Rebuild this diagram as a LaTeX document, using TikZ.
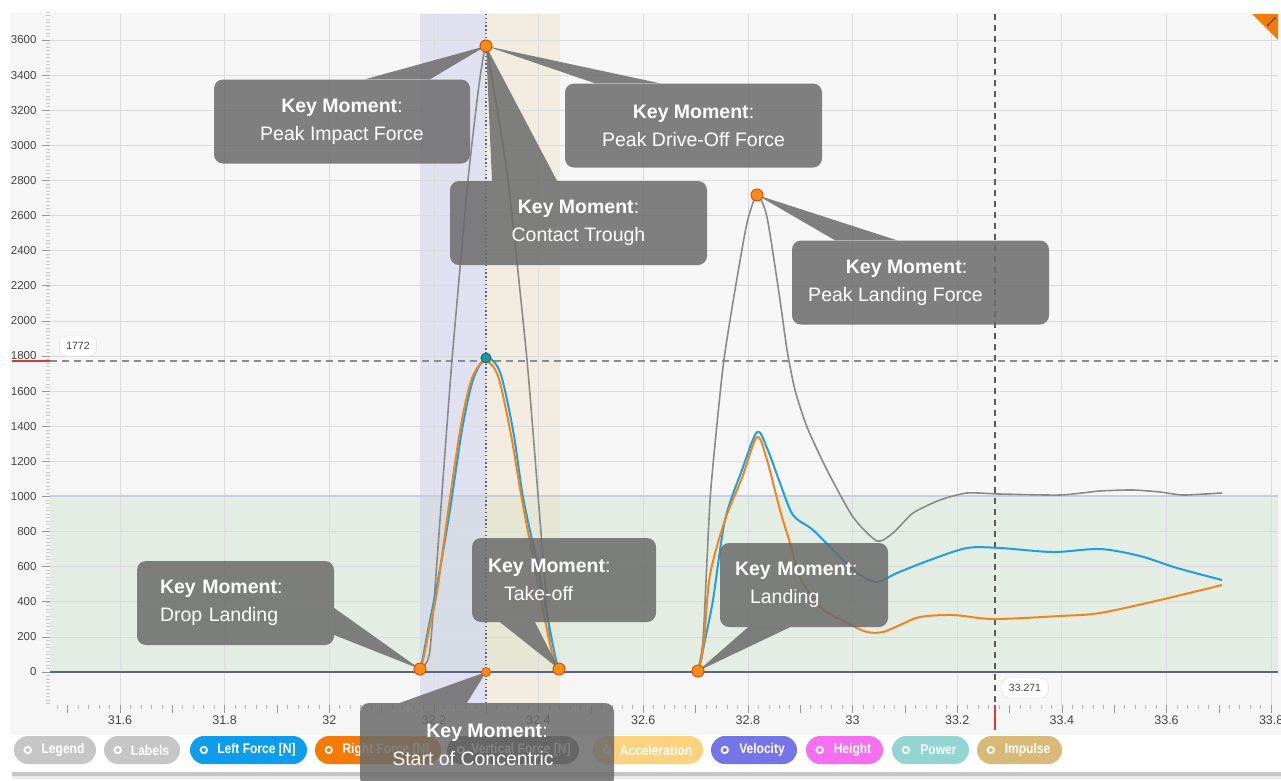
\documentclass[tikz,border=0pt]{standalone}
\usepackage{fontspec}
\setmainfont{Liberation Sans}
\newfontfamily\pillfont[FakeStretch=0.86]{Liberation Sans}
\usetikzlibrary{arrows.meta}
\definecolor{panelbg}{HTML}{F6F6F7}
\definecolor{gridgrey}{HTML}{DCDCDE}
\definecolor{zonegreen}{HTML}{E3EDE3}
\definecolor{zoneedge}{HTML}{C9CEDF}
\definecolor{bandlav}{HTML}{C6C9E8}
\definecolor{bandbeige}{HTML}{EADDBB}
\definecolor{axisslate}{HTML}{5E6286}
\definecolor{callgrey}{HTML}{6B6B6B}
\definecolor{leftblue}{HTML}{1E9FE0}
\definecolor{rightorange}{HTML}{F0851C}
\definecolor{vertgrey}{HTML}{8A8A8A}
\definecolor{mkorange}{HTML}{FB8C1A}
\definecolor{mkedge}{HTML}{D2500A}
\definecolor{mkteal}{HTML}{169C9C}
\definecolor{cursorred}{HTML}{D83A3A}
\definecolor{ticklab}{HTML}{444444}
\definecolor{pillgrey}{HTML}{C6C6C6}
\definecolor{pillleft}{HTML}{0E9DEB}
\definecolor{pillright}{HTML}{F57A06}
\definecolor{pillvert}{HTML}{4C4C4C}
\definecolor{pillacc}{HTML}{FCD27D}
\definecolor{pillvel}{HTML}{7575E8}
\definecolor{pillhgt}{HTML}{F66FF0}
\definecolor{pillpow}{HTML}{93D5D3}
\definecolor{pillimp}{HTML}{D8B977}

\begin{document}
\begin{tikzpicture}[x=1pt,y=-1pt,
  callout/.style={fill=callgrey, fill opacity=0.85, text opacity=1, text=white, rounded corners=9pt,
    inner sep=0pt, minimum height=84pt, font=\fontsize{19.5}{28}\selectfont},
  tip/.style={fill=callgrey, fill opacity=0.85},
  marker/.style={circle, fill=mkorange, draw=mkedge, line width=1pt, inner sep=0pt, minimum size=12pt},
  valuetag/.style={draw=black!15, fill=white, rounded corners=7pt, inner xsep=7pt, minimum height=20pt,
    font=\fontsize{10.5}{12}\selectfont, text=black!75},
  ylab/.style={anchor=east, font=\fontsize{11.5}{12}\selectfont, text=ticklab},
  xlab/.style={font=\fontsize{12.5}{13}\selectfont, text=ticklab},
  pill/.style={rounded corners=14pt, minimum height=28pt, inner sep=0pt, text=white,
    font=\pillfont\bfseries\fontsize{14}{15}\selectfont},
  gridline/.style={gridgrey, line width=0.8pt},
  forceline/.style={line width=2pt, line join=round, smooth, tension=0.5}
]
\useasboundingbox (0,0) rectangle (1281,780);
\fill[white] (0,0) rectangle (1281,780);
\fill[black!22] (12,771) rectangle (1281,776);
\fill[black!8] (12,776) rectangle (1281,779);
\fill[white] (10,13) rectangle (1281,772);
\fill[panelbg] (10,13) rectangle (1281,735);

\fill[zonegreen] (50,496) rectangle (1278,672);
\fill[bandlav, fill opacity=0.45] (420,14) rectangle (486,705);
\fill[bandbeige, fill opacity=0.4] (486,14) rectangle (560,705);

\foreach \i in {0,...,11}
  \draw[gridline] ({120+\i*104.65},14) -- ({120+\i*104.65},705);
\foreach \k in {0,...,18}
  \draw[gridline] (50,{672-\k*35.11}) -- (1278,{672-\k*35.11});
\draw[zoneedge, line width=1.2pt] (50,496) -- (1278,496);

\foreach \k in {-9,...,188}
  \draw[black!22, line width=0.5pt] (46,{672-\k*3.511}) -- (50,{672-\k*3.511});
\foreach \k in {0,...,18}
  \draw[black!40, line width=0.6pt] (42,{672-\k*35.11}) -- (50,{672-\k*35.11});
\foreach \k in {-6,...,110}
  \draw[black!30, line width=0.6pt] ({120+\k*10.465},705) -- ({120+\k*10.465},709);
\foreach \k in {-1,...,22}
  \draw[black!40, line width=0.6pt] ({120+\k*52.325},705) -- ({120+\k*52.325},713);

\foreach \v in {0,200,...,3600}
  \node[ylab] (yl\v) at (40,{672-\v*0.17555}) {\v};
\foreach \t [count=\i from 0] in {31.6,31.8,32,32.2,32.4,32.6,32.8,33,33.2,33.4,33.6,33.8}
  \node[xlab] (xl\i) at ({120+\i*104.65},720) {\t};

\draw[black!45, line width=1.2pt, dash pattern=on 7pt off 5pt] (50,361) -- (1278,361);
\draw[cursorred, line width=1.5pt] (12,361) -- (50,361);
\draw[axisslate, line width=1.4pt, dash pattern=on 1.4pt off 2.4pt] (486,14) -- (486,705);
\draw[black!65, line width=1.8pt, dash pattern=on 6pt off 5pt] (995,14) -- (995,705);
\draw[cursorred, line width=1.2pt] (995,705) -- (995,730);
\draw[axisslate, line width=1.4pt] (50,672) -- (1278,672);

\draw[vertgrey, forceline, line width=1.6pt, tension=0.35] plot coordinates {(416,672) (422,668) (430,650) (440,520)
  (452,360) (468,180) (479,85) (486,46) (493,85) (508,180) (527,360) (540,520) (550,640) (557,670) (562,672)};
\draw[vertgrey, forceline, line width=1.6pt, tension=0.4] plot coordinates {(694,672) (698,670) (703,640) (707,560)
  (711,487) (723,367) (735,290) (747,223) (757,195) (767,217) (780,300) (787,350) (795,390) (807,427)
  (827,470) (853,517) (877,541) (893,533) (913,513) (940,500) (967,493) (1000,494) (1060,495) (1100,491)
  (1133,490) (1160,492) (1183,495) (1222,493)};
\draw[leftblue, forceline] plot coordinates {(418,672) (422,662) (428,630) (438,580) (450,510) (462,430)
  (473,380) (486,358) (500,372) (513,430) (523,497) (537,563) (550,630) (556,660) (560,672)};
\draw[leftblue, forceline] plot coordinates {(694,672) (699,668) (705,640) (713,600) (725,520) (742,470)
  (757,432) (767,448) (780,483) (793,515) (813,530) (840,557) (857,573) (877,582) (897,573)
  (930,560) (967,548) (1000,548) (1053,552) (1100,549) (1140,556) (1177,568) (1222,580)};
\draw[rightorange, forceline] plot coordinates {(418,672) (423,660) (430,625) (437,592) (449,505) (461,425)
  (472,378) (485,361) (498,376) (511,435) (522,500) (535,568) (548,635) (554,660) (558,672)};
\draw[rightorange, forceline] plot coordinates {(694,672) (699,669) (704,640) (710,575) (725,520) (742,478)
  (757,437) (767,460) (780,510) (790,543) (800,577) (820,607) (847,623) (867,632) (883,632)
  (900,625) (920,617) (953,615) (993,619) (1060,616) (1100,613) (1160,600) (1222,585)};

\node[valuetag] (tag1772) at (78,346) {1772};
\node[valuetag] (tag33271) at (1025,688) {33.271};

\fill[pillright] (1252,14) -- (1278,14) -- (1278,40) -- cycle;
\draw[black!75, line width=0.8pt, {Stealth[length=2.5pt]}-{Stealth[length=2.5pt]}] (1267,26) -- (1276,17);

\foreach \nm/\lbl/\cx/\pw/\col in {legend/Legend/55/82/pillgrey, labels/Labels/142/76/pillgrey,
    left/Left Force [N]/248.5/117/pillleft, right/Right Force [N]/378/126/pillright,
    vert/Vertical Force [N]/513/132/pillvert, accel/Acceleration/648/110/pillacc,
    vel/Velocity/754/86/pillvel, height/Height/844.5/77/pillhgt, power/Power/930.5/77/pillpow,
    impulse/Impulse/1019.5/85/pillimp}
{
  \node[pill, fill=\col, minimum width=\pw] (\nm) at (\cx,750) {\hspace*{16pt}\lbl};
  \draw[white, line width=1.8pt] ([xshift=14pt]\nm.west) circle (3.2);
}

\coordinate (pImpact) at (486,46);
\coordinate (pLandPeak) at (757,195);
\coordinate (pDrop) at (420,669);
\coordinate (pTake) at (559,669);
\coordinate (pLand) at (698,671);
\coordinate (pConc) at (486,672);

\node[callout, align=center, minimum width=256pt] (impact) at (342,121.5) {\textbf{Key Moment}:\\Peak Impact Force};
\node[callout, align=center, minimum width=257pt] (driveoff) at (693.5,125.5) {\textbf{Key Moment}:\\Peak Drive-Off Force};
\node[callout, align=center, minimum width=257pt] (trough) at (578.5,223) {\textbf{Key Moment}:\\Contact Trough};
\node[callout, align=center, minimum width=257pt] (landpeak) at (920.5,282.5)
  {\textbf{Key Moment}:\hspace*{28pt}\\Peak Landing Force\hspace*{50pt}};
\node[callout, align=left, text width=151pt, minimum width=197pt] (drop) at (235.5,603) {\textbf{Key Moment}:\\Drop Landing};
\node[callout, align=left, text width=152pt, minimum width=184pt] (takeoff) at (564,580) {\textbf{Key Moment}:\\\hspace*{16pt}Take-off};
\node[callout, align=left, text width=138pt, minimum width=168pt] (landing) at (804,585) {\textbf{Key Moment}:\\\hspace*{15pt}Landing};
\node[callout, align=center, minimum width=254pt] (concentric) at (487,745)
  {\textbf{Key Moment}:\\Start of Concentric\hspace*{28pt}};

\fill[tip] ([xshift=23pt]impact.north) -- ([xshift=88pt]impact.north) -- (pImpact) -- cycle;
\fill[tip] ([xshift=-98.5pt]driveoff.north) -- ([xshift=-33.5pt]driveoff.north) -- (pImpact) -- cycle;
\fill[tip] ([xshift=-86.5pt]trough.north) -- ([xshift=-21.5pt]trough.north) -- (pImpact) -- cycle;
\fill[tip] ([xshift=-85.5pt]landpeak.north) -- ([xshift=-23.5pt]landpeak.north) -- (pLandPeak) -- cycle;
\fill[tip] ([yshift=-5pt]drop.east) -- ([yshift=-32pt]drop.east) -- (pDrop) -- cycle;
\fill[tip] ([xshift=-64pt]takeoff.south) -- ([xshift=-29pt]takeoff.south) -- (pTake) -- cycle;
\fill[tip] ([xshift=-56pt]landing.south) -- ([xshift=-14pt]landing.south) -- (pLand) -- cycle;
\fill[tip] ([xshift=-87pt]concentric.north) -- ([xshift=-20pt]concentric.north) -- (pConc) -- cycle;

\node[marker] (mImpact) at (pImpact) {};
\node[marker] (mLandPeak) at (pLandPeak) {};
\node[marker] (mDrop) at (pDrop) {};
\node[marker] (mTake) at (pTake) {};
\node[marker] (mLand) at (pLand) {};
\node[marker, minimum size=9pt, line width=0.8pt] (mConc) at (pConc) {};
\node[marker, fill=mkteal, draw=mkteal!70!black, minimum size=10pt] (mPeakLR) at (486,358) {};
\end{tikzpicture}
\end{document}
